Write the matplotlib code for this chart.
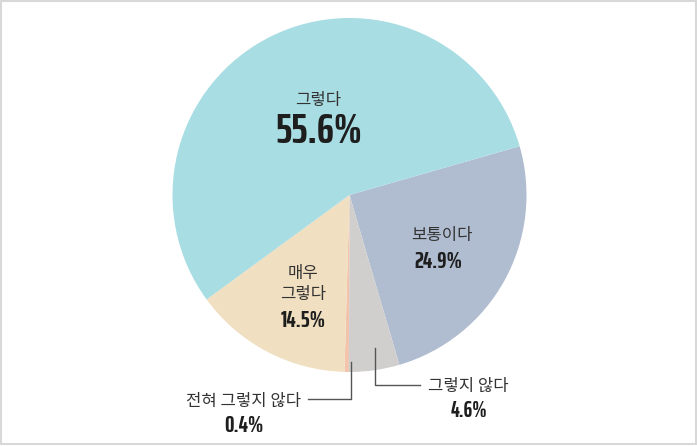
import matplotlib
matplotlib.use('Agg')
import matplotlib.pyplot as plt

# data
labels = ['보통이다', '그렇지 않다', '전혀 그렇지 않다', '매우 그렇다', '그렇다']
values = [24.9, 4.6, 0.4, 14.5, 55.6]
colors = ['#B0BDD0', '#D1CFCE', '#F2C4AC', '#F0DFC0', '#A8DDE3']

kr_font = ['Noto Sans CJK KR', 'DejaVu Sans']
num_font = ['Saira ExtraCondensed', 'DejaVu Sans']

W, H = 697, 446
fig = plt.figure(figsize=(W / 100, H / 100), dpi=100)
ax = fig.add_axes([0, 0, 1, 1])

# pie in pixel coordinates (y flipped so that 0 is at the bottom)
cx, cy, r = 349.5, H - 195, 177
ax.pie(values, colors=colors, startangle=16, counterclock=False,
       center=(cx, cy), radius=r, wedgeprops={'linewidth': 0})
ax.set_xlim(0, W)
ax.set_ylim(0, H)
ax.axis('off')


def name_text(x, base, s):
    ax.text(x, H - base, s, ha='center', va='baseline', fontsize=12,
            family=kr_font, color='#333333')


def pct_text(x, base, v, size=17):
    ax.text(x, H - base, f'{v}%', ha='center', va='baseline', fontsize=size,
            family=num_font, fontweight='bold', color='#1E1E1E')


name_text(318, 105, labels[4])
pct_text(319, 143, values[4], size=31)

name_text(442, 240, labels[0])
pct_text(438, 268, values[0])

name_text(303, 278, '매우')
name_text(303, 299, '그렇다')
pct_text(303, 327, values[3])

name_text(468, 391, labels[1])
pct_text(469, 417, values[1], size=16)

name_text(244, 406, labels[2])
pct_text(244, 432, values[2])

# leader lines
ax.plot([375, 375, 420], [H - 348, H - 385, H - 385], color='#555555', lw=1)
ax.plot([351, 351, 308], [H - 362, H - 399, H - 399], color='#555555', lw=1)

# frame
fig.patches.append(plt.Rectangle((0.002, 0.004), 0.996, 0.993, transform=fig.transFigure,
                                 fill=False, edgecolor='#D8D8D8', lw=1.5))

fig.savefig('out.png', dpi=100)
